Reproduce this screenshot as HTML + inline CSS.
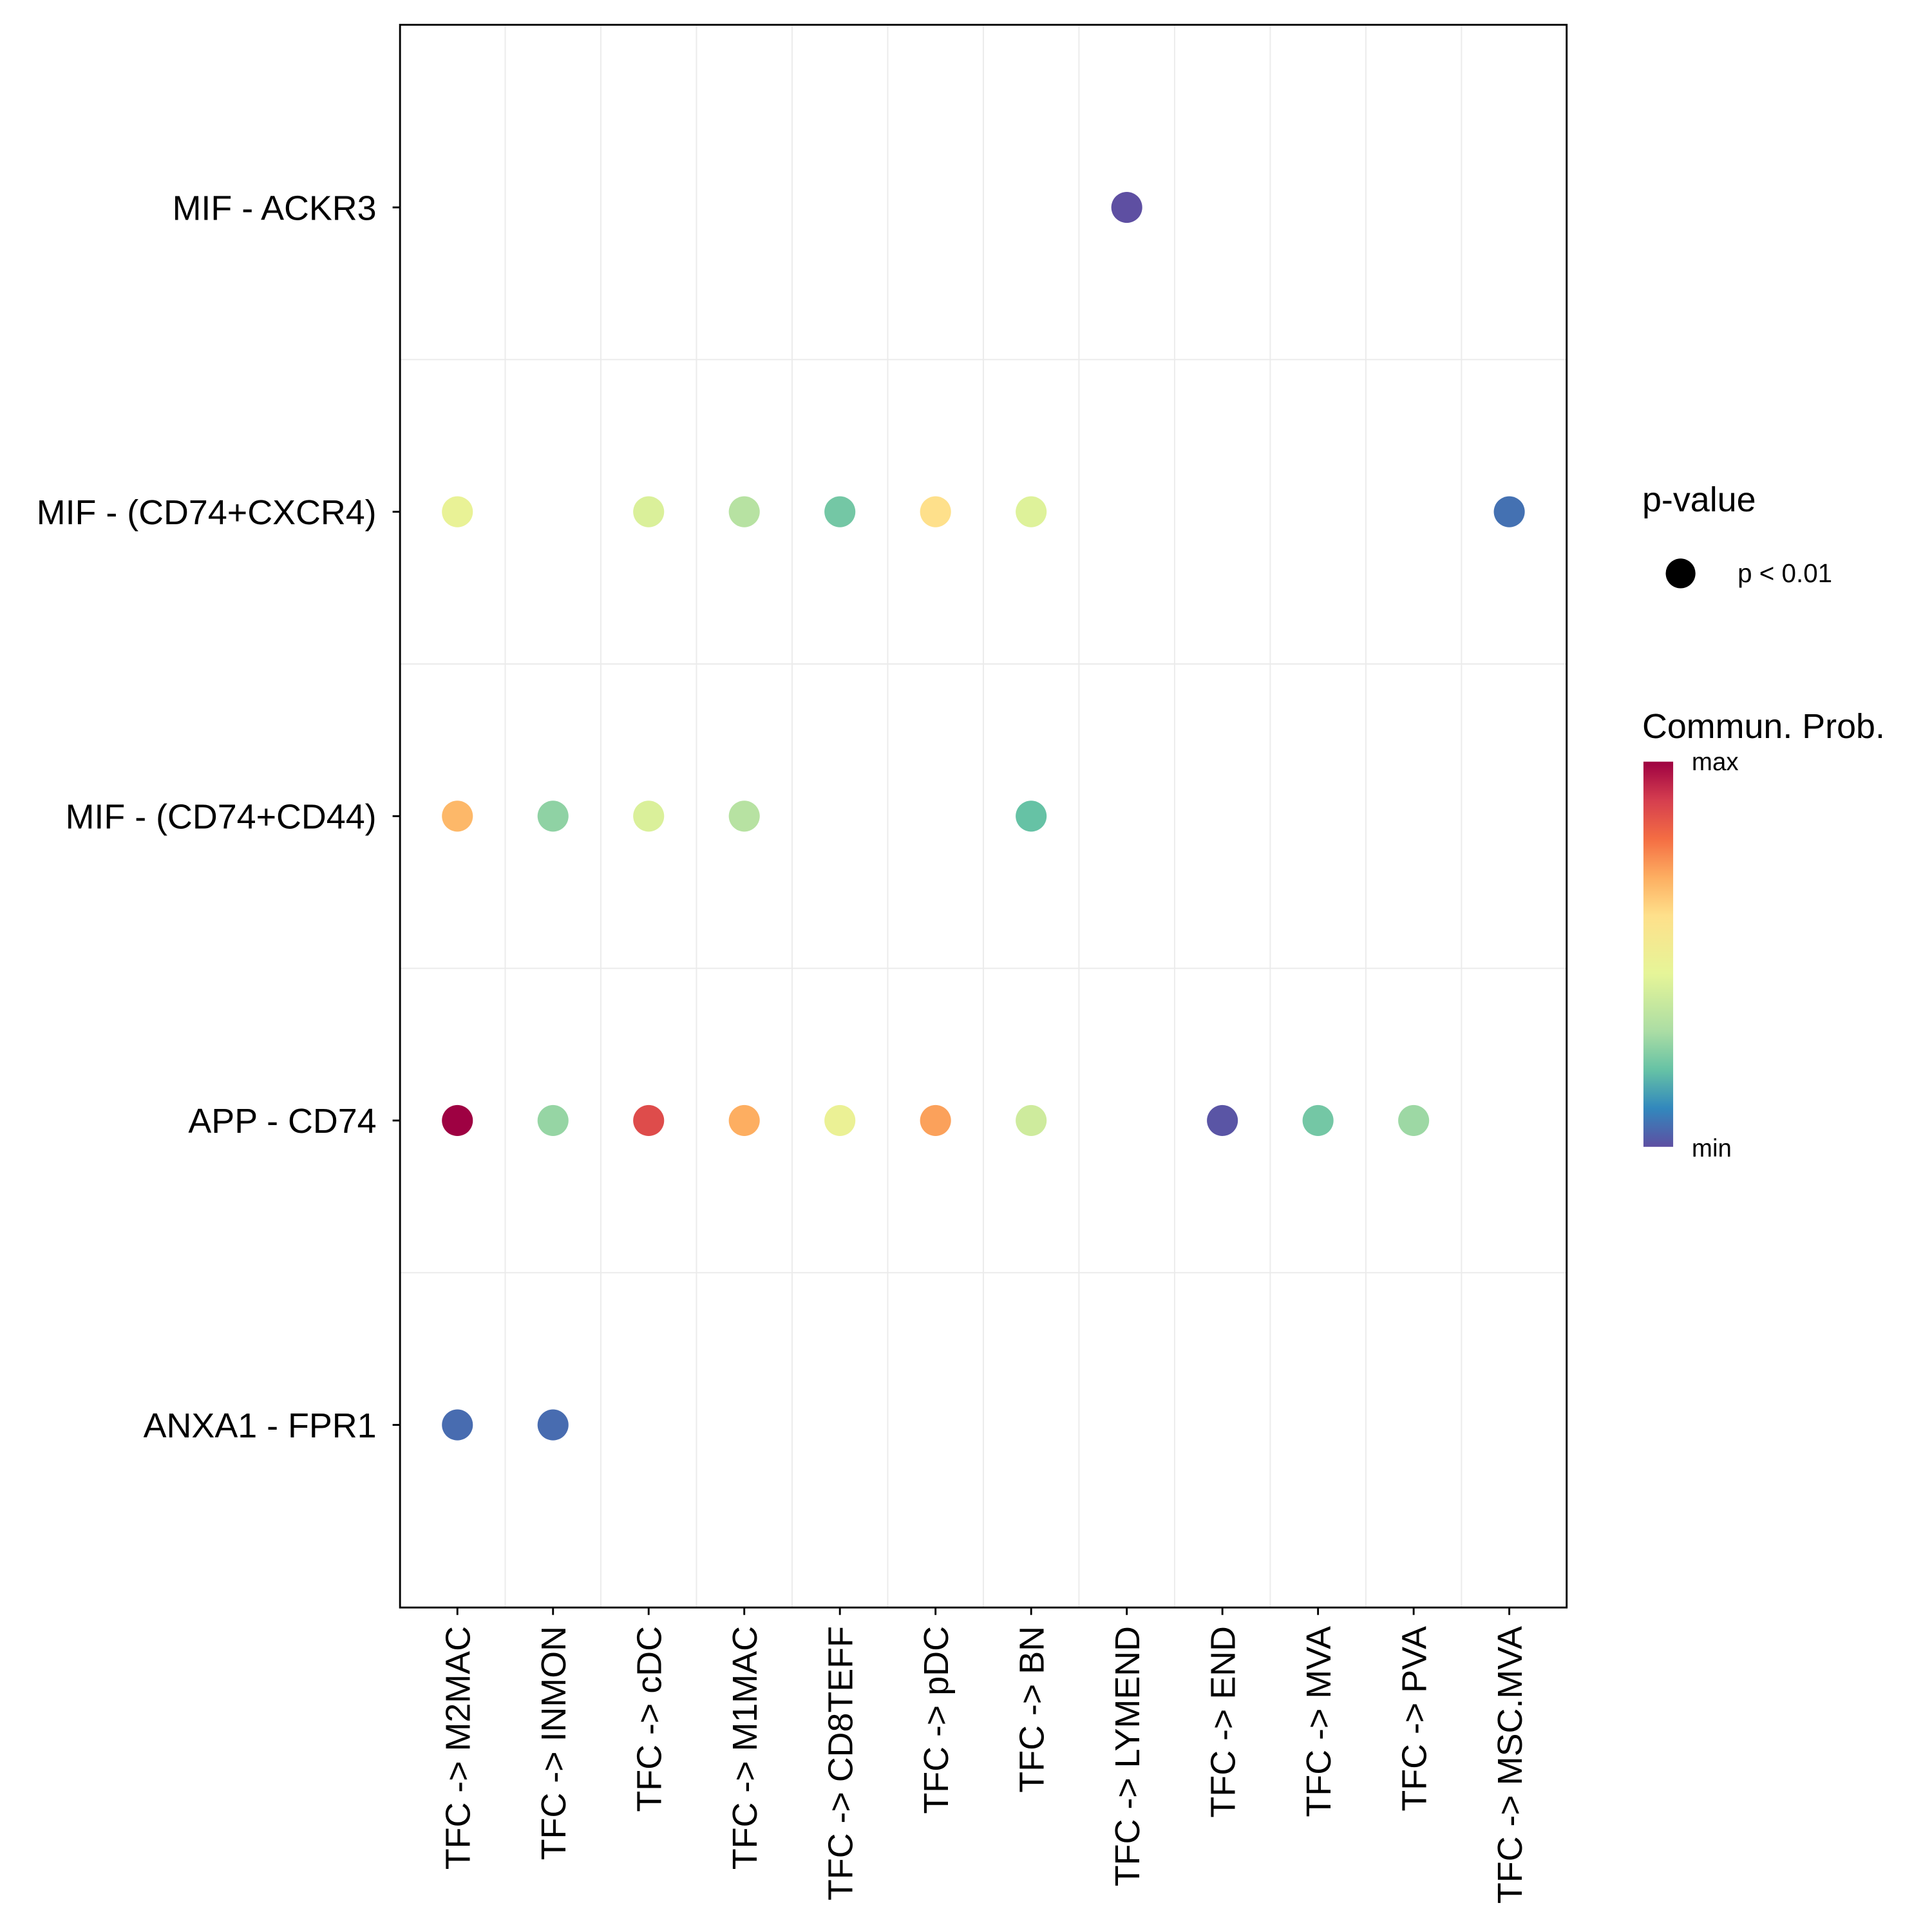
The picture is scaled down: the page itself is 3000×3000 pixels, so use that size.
<!DOCTYPE html>
<html><head><meta charset="utf-8"><style>
html,body{margin:0;padding:0;background:#fff;}
svg{display:block;}
text{font-family:"Liberation Sans",Arial,sans-serif;fill:#000;}
</style></head><body>
<svg id="chart" width="3000" height="3000" viewBox="0 0 1560 1560" xmlns="http://www.w3.org/2000/svg">
<defs>
<linearGradient id="cbar" x1="0" y1="1" x2="0" y2="0">
<stop offset="0" stop-color="#5E4FA2"/><stop offset="0.1" stop-color="#3288BD"/><stop offset="0.2" stop-color="#66C2A5"/><stop offset="0.3" stop-color="#ABDDA4"/><stop offset="0.45" stop-color="#E6F598"/><stop offset="0.6" stop-color="#FEE08B"/><stop offset="0.7" stop-color="#FDAE61"/><stop offset="0.8" stop-color="#F46D43"/><stop offset="0.9" stop-color="#D53E4F"/><stop offset="1" stop-color="#9E0142"/>
</linearGradient>
</defs>
<g id="grid"></g>
<g id="dots"></g>
<rect x="323" y="20" width="942" height="1278" fill="none" stroke="#000" stroke-width="1.5"/>
<g id="yaxis"></g>
<g id="xaxis"></g>
<g>
<text x="1326" y="413" font-size="28">p-value</text>
<circle cx="1357" cy="463" r="12" fill="#000"/>
<text x="1403" y="470" font-size="21">p &lt; 0.01</text>
</g>
<g>
<text x="1326" y="596" font-size="28">Commun. Prob.</text>
<rect x="1327" y="615" width="24" height="311" fill="url(#cbar)"/>
<text x="1366" y="622" font-size="20">max</text>
<text x="1366" y="934" font-size="20">min</text>
</g>
</svg>
<script>
const categories = ["TFC -> M2MAC","TFC -> INMON","TFC -> cDC","TFC -> M1MAC","TFC -> CD8TEFF","TFC -> pDC","TFC -> BN","TFC -> LYMEND","TFC -> END","TFC -> MVA","TFC -> PVA","TFC -> MSC.MVA"];
const pairs = ["MIF - ACKR3","MIF - (CD74+CXCR4)","MIF - (CD74+CD44)","APP - CD74","ANXA1 - FPR1"];
const rowACKR3 = [null,null,null,null,null,null,null,0.0,null,null,null,null];
const rowCXCR4 = [0.47,null,0.42,0.33,0.22,0.6,0.43,null,null,null,null,0.06];
const rowCD44 = [0.68,0.26,0.42,0.33,null,null,0.2,null,null,null,null,null];
const rowAPP = [1.0,0.27,0.87,0.7,0.48,0.72,0.39,null,0.01,0.22,0.28,null];
const rowANXA1 = [0.05,0.05,null,null,null,null,null,null,null,null,null,null];
const rows = [rowACKR3,rowCXCR4,rowCD44,rowAPP,rowANXA1];

const NS="http://www.w3.org/2000/svg";
const stopsPos=[0,0.1,0.2,0.3,0.45,0.6,0.7,0.8,0.9,1];
const stopsCol=["#5E4FA2","#3288BD","#66C2A5","#ABDDA4","#E6F598","#FEE08B","#FDAE61","#F46D43","#D53E4F","#9E0142"];
function hex(h){return [1,3,5].map(i=>parseInt(h.substr(i,2),16));}
function color(v){v=Math.max(0,Math.min(1,v));let i=0;while(i<stopsPos.length-2&&v>stopsPos[i+1])i++;const f=(v-stopsPos[i])/(stopsPos[i+1]-stopsPos[i]);const a=hex(stopsCol[i]),b=hex(stopsCol[i+1]);return "rgb("+a.map((c,k)=>Math.round(c+(b[k]-c)*f)).join(",")+")";}
const L=323,R=1265,T=20,B=1298;
const xs=(i)=>L+(i+0.6)*(R-L)/(categories.length+0.2);
const ys=(j)=>T+(j+0.6)*(B-T)/(pairs.length+0.2);
function mk(tag,attrs,parent){const e=document.createElementNS(NS,tag);for(const k in attrs)e.setAttribute(k,attrs[k]);parent.appendChild(e);return e;}
const grid=document.getElementById('grid'),dots=document.getElementById('dots'),ya=document.getElementById('yaxis'),xa=document.getElementById('xaxis');
for(let i=0;i<categories.length-1;i++){
  const x=xs(i+0.5);
  const g=mk('line',{x1:x,x2:x,y1:T,y2:B,stroke:"#ebebeb","stroke-width":1},grid);
  
  
}
for(let j=0;j<pairs.length-1;j++){
  const y=ys(j+0.5);
  const g=mk('line',{x1:L,x2:R,y1:y,y2:y,stroke:"#ebebeb","stroke-width":1},grid);
  
  
}
for(let i=0;i<categories.length;i++){
  const x=xs(i);
  const tk=mk('line',{x1:x,x2:x,y1:B,y2:B+6,stroke:"#000","stroke-width":1.5},xa);
  
  
  const t=mk('text',{x:0,y:0,"font-size":28,"text-anchor":"end",transform:"translate("+(x+10)+","+(B+15)+") rotate(-90)"},xa);
  t.textContent=categories[i];
  
  
}
for(let j=0;j<pairs.length;j++){
  const y=ys(j);
  const tk=mk('line',{x1:L-6,x2:L,y1:y,y2:y,stroke:"#000","stroke-width":1.5},ya);
  
  
  const t=mk('text',{x:L-19,y:y+10,"font-size":28,"text-anchor":"end"},ya);
  t.textContent=pairs[j];
  
  
  rows[j].forEach((v,i)=>{
    if(v===null)return;
    const c=mk('circle',{cx:xs(i),cy:y,r:12.5,fill:color(v)},dots);
    
    
  });
}
</script>
</body></html>
